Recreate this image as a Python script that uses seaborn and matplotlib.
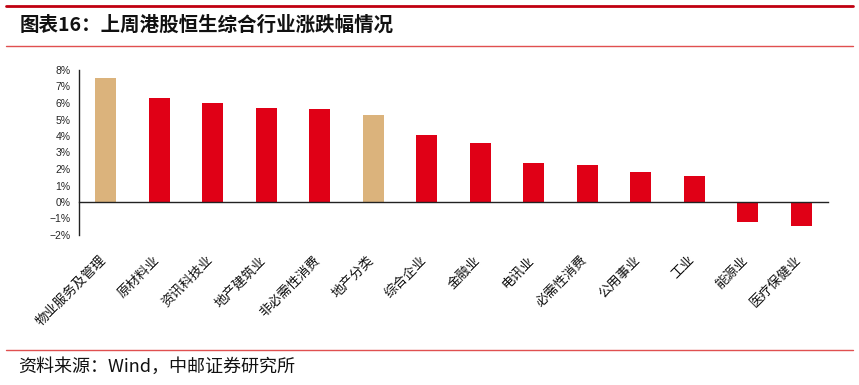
import matplotlib
matplotlib.use("Agg")
import matplotlib.pyplot as plt
from matplotlib.lines import Line2D
from matplotlib.ticker import FixedLocator, FuncFormatter
from matplotlib.transforms import ScaledTranslation
import seaborn as sns
import pandas as pd
import numpy as np

categories = ["物业服务及管理", "原材料业", "资讯科技业", "地产建筑业", "非必需性消费",
              "地产分类", "综合企业", "金融业", "电讯业", "必需性消费",
              "公用事业", "工业", "能源业", "医疗保健业"]
values = [7.53, 6.28, 6.0, 5.7, 5.62, 5.28, 4.07, 3.6, 2.38, 2.24, 1.83, 1.55, -1.2, -1.46]
highlight = ["物业服务及管理", "地产分类"]
y_ticks = [-2, -1, 0, 1, 2, 3, 4, 5, 6, 7, 8]

title = "图表16：上周港股恒生综合行业涨跌幅情况"
source = "资料来源：Wind，中邮证券研究所"

RED = "#E00016"
TAN = "#DBB37C"

sns.set_theme(style="white")
plt.rcParams["font.family"] = ["Noto Sans CJK SC", "DejaVu Sans"]
plt.rcParams["axes.unicode_minus"] = True

df = pd.DataFrame({"cat": categories, "val": values})
palette = [TAN if c in highlight else RED for c in categories]

fig = plt.figure(figsize=(8.59, 3.85), dpi=100)
ax = fig.add_axes([79 / 859, 1 - 235 / 385, (828 - 79) / 859, (235 - 70) / 385])

sns.barplot(data=df, x="cat", y="val", hue="cat", palette=palette, legend=False,
            width=0.4, ax=ax, saturation=1, linewidth=0)

ax.set_xlim(-0.5, len(categories) - 0.5)
ax.set_ylim(-2, 8)
ax.set_xlabel("")
ax.set_ylabel("")

for s in ["top", "right"]:
    ax.spines[s].set_visible(False)
ax.spines["bottom"].set_position(("data", 0))
ax.spines["bottom"].set_color("#222222")
ax.spines["bottom"].set_linewidth(1.0)
ax.spines["left"].set_color("#222222")
ax.spines["left"].set_linewidth(1.0)

ax.set_yticks(y_ticks)
ax.yaxis.set_major_formatter(FuncFormatter(lambda v, p: f"{int(v)}%".replace("-", "\u2212")))
ax.tick_params(axis="y", which="major", direction="out", length=4, width=1,
               color="#222222", labelsize=7.5, pad=2)
for lab in ax.get_yticklabels():
    lab.set_fontfamily(["Liberation Sans", "DejaVu Sans"])

ax.xaxis.set_minor_locator(FixedLocator(np.arange(-0.5, len(categories), 1.0)))
ax.tick_params(axis="x", which="minor", direction="out", length=4, width=1, color="#222222")
ax.tick_params(axis="x", which="major", length=0, pad=30, labelsize=9.5)
ax.set_xticks(range(len(categories)))
ax.set_xticklabels(categories, rotation=45, ha="right", rotation_mode="anchor",
                   color="#111111")
offset = ScaledTranslation(-0.065, -0.10, fig.dpi_scale_trans)
for lab in ax.get_xticklabels():
    lab.set_transform(lab.get_transform() + offset)

# decorative lines and texts
fig.add_artist(Line2D([6 / 859, 853 / 859], [1 - 6 / 385, 1 - 6 / 385],
                      transform=fig.transFigure, color="#C00010", lw=2.0))
fig.add_artist(Line2D([6 / 859, 853 / 859], [1 - 45.5 / 385, 1 - 45.5 / 385],
                      transform=fig.transFigure, color="#E05050", lw=1.0))
fig.add_artist(Line2D([6 / 859, 853 / 859], [1 - 350 / 385, 1 - 350 / 385],
                      transform=fig.transFigure, color="#E05050", lw=1.0))
fig.text(20 / 859, 1 - 25 / 385, title, fontsize=14, fontweight="bold",
         va="center", ha="left", color="#111111")
fig.text(18 / 859, 1 - 367 / 385, source, fontsize=13, va="center", ha="left",
         color="#111111")

fig.savefig("out.png", dpi=100)
